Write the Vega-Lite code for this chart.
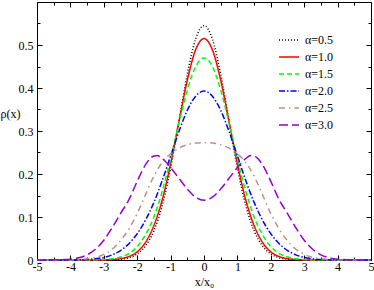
{
"$schema": "https://vega.github.io/schema/vega-lite/v6.json",
"width": 334, "height": 258,
"autosize": {"type": "none"},
"padding": {"left": 37, "top": 2, "right": 3, "bottom": 30},
"config": {
  "view": {"stroke": "black", "strokeWidth": 1},
  "font": "Liberation Serif",
  "axis": {"domain": false, "grid": false, "tickColor": "black", "tickWidth": 1, "labelColor": "black", "labelFont": "Liberation Serif", "labelFontSize": 12, "titleFont": "Liberation Serif", "titleFontSize": 12, "titleFontWeight": "normal", "titleColor": "black", "labelFlush": false}
},
"data": {"values": [
{"s":"α=0.5","x":-5,"y":0},{"s":"α=0.5","x":-4.5,"y":0},{"s":"α=0.5","x":-4,"y":0},{"s":"α=0.5","x":-3.75,"y":0},{"s":"α=0.5","x":-3.5,"y":0},{"s":"α=0.5","x":-3.25,"y":0},{"s":"α=0.5","x":-3,"y":0.0002},{"s":"α=0.5","x":-2.75,"y":0.0006},{"s":"α=0.5","x":-2.5,"y":0.002},{"s":"α=0.5","x":-2.25,"y":0.0055},{"s":"α=0.5","x":-2,"y":0.014},{"s":"α=0.5","x":-1.75,"y":0.033},{"s":"α=0.5","x":-1.5,"y":0.068},{"s":"α=0.5","x":-1.25,"y":0.127},{"s":"α=0.5","x":-1,"y":0.214},{"s":"α=0.5","x":-0.75,"y":0.322},{"s":"α=0.5","x":-0.5,"y":0.432},{"s":"α=0.5","x":-0.25,"y":0.514},{"s":"α=0.5","x":0,"y":0.545},{"s":"α=0.5","x":0.25,"y":0.514},{"s":"α=0.5","x":0.5,"y":0.432},{"s":"α=0.5","x":0.75,"y":0.322},{"s":"α=0.5","x":1,"y":0.214},{"s":"α=0.5","x":1.25,"y":0.127},{"s":"α=0.5","x":1.5,"y":0.068},{"s":"α=0.5","x":1.75,"y":0.033},{"s":"α=0.5","x":2,"y":0.014},{"s":"α=0.5","x":2.25,"y":0.0055},{"s":"α=0.5","x":2.5,"y":0.002},{"s":"α=0.5","x":2.75,"y":0.0006},{"s":"α=0.5","x":3,"y":0.0002},{"s":"α=0.5","x":3.25,"y":0},{"s":"α=0.5","x":3.5,"y":0},{"s":"α=0.5","x":3.75,"y":0},{"s":"α=0.5","x":4,"y":0},{"s":"α=0.5","x":4.5,"y":0},{"s":"α=0.5","x":5,"y":0},
{"s":"α=1.0","x":-5,"y":0},{"s":"α=1.0","x":-4.5,"y":0},{"s":"α=1.0","x":-4,"y":0},{"s":"α=1.0","x":-3.75,"y":0},{"s":"α=1.0","x":-3.5,"y":0},{"s":"α=1.0","x":-3.25,"y":0},{"s":"α=1.0","x":-3,"y":0.0003},{"s":"α=1.0","x":-2.75,"y":0.001},{"s":"α=1.0","x":-2.5,"y":0.003},{"s":"α=1.0","x":-2.25,"y":0.008},{"s":"α=1.0","x":-2,"y":0.019},{"s":"α=1.0","x":-1.75,"y":0.041},{"s":"α=1.0","x":-1.5,"y":0.08},{"s":"α=1.0","x":-1.25,"y":0.14},{"s":"α=1.0","x":-1,"y":0.224},{"s":"α=1.0","x":-0.75,"y":0.322},{"s":"α=1.0","x":-0.5,"y":0.418},{"s":"α=1.0","x":-0.25,"y":0.489},{"s":"α=1.0","x":0,"y":0.515},{"s":"α=1.0","x":0.25,"y":0.489},{"s":"α=1.0","x":0.5,"y":0.418},{"s":"α=1.0","x":0.75,"y":0.322},{"s":"α=1.0","x":1,"y":0.224},{"s":"α=1.0","x":1.25,"y":0.14},{"s":"α=1.0","x":1.5,"y":0.08},{"s":"α=1.0","x":1.75,"y":0.041},{"s":"α=1.0","x":2,"y":0.019},{"s":"α=1.0","x":2.25,"y":0.008},{"s":"α=1.0","x":2.5,"y":0.003},{"s":"α=1.0","x":2.75,"y":0.001},{"s":"α=1.0","x":3,"y":0.0003},{"s":"α=1.0","x":3.25,"y":0},{"s":"α=1.0","x":3.5,"y":0},{"s":"α=1.0","x":3.75,"y":0},{"s":"α=1.0","x":4,"y":0},{"s":"α=1.0","x":4.5,"y":0},{"s":"α=1.0","x":5,"y":0},
{"s":"α=1.5","x":-5,"y":0},{"s":"α=1.5","x":-4.5,"y":0},{"s":"α=1.5","x":-4,"y":0},{"s":"α=1.5","x":-3.75,"y":0},{"s":"α=1.5","x":-3.5,"y":0},{"s":"α=1.5","x":-3.25,"y":0.0003},{"s":"α=1.5","x":-3,"y":0.001},{"s":"α=1.5","x":-2.75,"y":0.003},{"s":"α=1.5","x":-2.5,"y":0.007},{"s":"α=1.5","x":-2.25,"y":0.015},{"s":"α=1.5","x":-2,"y":0.031},{"s":"α=1.5","x":-1.75,"y":0.059},{"s":"α=1.5","x":-1.5,"y":0.1},{"s":"α=1.5","x":-1.25,"y":0.16},{"s":"α=1.5","x":-1,"y":0.235},{"s":"α=1.5","x":-0.75,"y":0.318},{"s":"α=1.5","x":-0.5,"y":0.395},{"s":"α=1.5","x":-0.25,"y":0.45},{"s":"α=1.5","x":0,"y":0.47},{"s":"α=1.5","x":0.25,"y":0.45},{"s":"α=1.5","x":0.5,"y":0.395},{"s":"α=1.5","x":0.75,"y":0.318},{"s":"α=1.5","x":1,"y":0.235},{"s":"α=1.5","x":1.25,"y":0.16},{"s":"α=1.5","x":1.5,"y":0.1},{"s":"α=1.5","x":1.75,"y":0.059},{"s":"α=1.5","x":2,"y":0.031},{"s":"α=1.5","x":2.25,"y":0.015},{"s":"α=1.5","x":2.5,"y":0.007},{"s":"α=1.5","x":2.75,"y":0.003},{"s":"α=1.5","x":3,"y":0.001},{"s":"α=1.5","x":3.25,"y":0.0003},{"s":"α=1.5","x":3.5,"y":0},{"s":"α=1.5","x":3.75,"y":0},{"s":"α=1.5","x":4,"y":0},{"s":"α=1.5","x":4.5,"y":0},{"s":"α=1.5","x":5,"y":0},
{"s":"α=2.0","x":-5,"y":0},{"s":"α=2.0","x":-4.5,"y":0},{"s":"α=2.0","x":-4,"y":0},{"s":"α=2.0","x":-3.75,"y":0.0003},{"s":"α=2.0","x":-3.5,"y":0.001},{"s":"α=2.0","x":-3.25,"y":0.003},{"s":"α=2.0","x":-3,"y":0.006},{"s":"α=2.0","x":-2.75,"y":0.012},{"s":"α=2.0","x":-2.5,"y":0.022},{"s":"α=2.0","x":-2.25,"y":0.038},{"s":"α=2.0","x":-2,"y":0.061},{"s":"α=2.0","x":-1.75,"y":0.093},{"s":"α=2.0","x":-1.5,"y":0.134},{"s":"α=2.0","x":-1.25,"y":0.185},{"s":"α=2.0","x":-1,"y":0.242},{"s":"α=2.0","x":-0.75,"y":0.299},{"s":"α=2.0","x":-0.5,"y":0.348},{"s":"α=2.0","x":-0.25,"y":0.381},{"s":"α=2.0","x":0,"y":0.393},{"s":"α=2.0","x":0.25,"y":0.381},{"s":"α=2.0","x":0.5,"y":0.348},{"s":"α=2.0","x":0.75,"y":0.299},{"s":"α=2.0","x":1,"y":0.242},{"s":"α=2.0","x":1.25,"y":0.185},{"s":"α=2.0","x":1.5,"y":0.134},{"s":"α=2.0","x":1.75,"y":0.093},{"s":"α=2.0","x":2,"y":0.061},{"s":"α=2.0","x":2.25,"y":0.038},{"s":"α=2.0","x":2.5,"y":0.022},{"s":"α=2.0","x":2.75,"y":0.012},{"s":"α=2.0","x":3,"y":0.006},{"s":"α=2.0","x":3.25,"y":0.003},{"s":"α=2.0","x":3.5,"y":0.001},{"s":"α=2.0","x":3.75,"y":0.0003},{"s":"α=2.0","x":4,"y":0},{"s":"α=2.0","x":4.5,"y":0},{"s":"α=2.0","x":5,"y":0},
{"s":"α=2.5","x":-5,"y":0},{"s":"α=2.5","x":-4.5,"y":0},{"s":"α=2.5","x":-4,"y":0.0003},{"s":"α=2.5","x":-3.75,"y":0.001},{"s":"α=2.5","x":-3.5,"y":0.003},{"s":"α=2.5","x":-3.25,"y":0.006},{"s":"α=2.5","x":-3,"y":0.013},{"s":"α=2.5","x":-2.75,"y":0.025},{"s":"α=2.5","x":-2.5,"y":0.045},{"s":"α=2.5","x":-2.25,"y":0.072},{"s":"α=2.5","x":-2,"y":0.108},{"s":"α=2.5","x":-1.75,"y":0.152},{"s":"α=2.5","x":-1.5,"y":0.195},{"s":"α=2.5","x":-1.25,"y":0.227},{"s":"α=2.5","x":-1,"y":0.247},{"s":"α=2.5","x":-0.75,"y":0.26},{"s":"α=2.5","x":-0.5,"y":0.268},{"s":"α=2.5","x":-0.25,"y":0.272},{"s":"α=2.5","x":0,"y":0.273},{"s":"α=2.5","x":0.25,"y":0.272},{"s":"α=2.5","x":0.5,"y":0.268},{"s":"α=2.5","x":0.75,"y":0.26},{"s":"α=2.5","x":1,"y":0.247},{"s":"α=2.5","x":1.25,"y":0.227},{"s":"α=2.5","x":1.5,"y":0.195},{"s":"α=2.5","x":1.75,"y":0.152},{"s":"α=2.5","x":2,"y":0.108},{"s":"α=2.5","x":2.25,"y":0.072},{"s":"α=2.5","x":2.5,"y":0.045},{"s":"α=2.5","x":2.75,"y":0.025},{"s":"α=2.5","x":3,"y":0.013},{"s":"α=2.5","x":3.25,"y":0.006},{"s":"α=2.5","x":3.5,"y":0.003},{"s":"α=2.5","x":3.75,"y":0.001},{"s":"α=2.5","x":4,"y":0.0003},{"s":"α=2.5","x":4.5,"y":0},{"s":"α=2.5","x":5,"y":0},
{"s":"α=3.0","x":-5,"y":0},{"s":"α=3.0","x":-4.5,"y":0.0003},{"s":"α=3.0","x":-4,"y":0.002},{"s":"α=3.0","x":-3.75,"y":0.005},{"s":"α=3.0","x":-3.5,"y":0.012},{"s":"α=3.0","x":-3.25,"y":0.025},{"s":"α=3.0","x":-3,"y":0.046},{"s":"α=3.0","x":-2.75,"y":0.075},{"s":"α=3.0","x":-2.5,"y":0.108},{"s":"α=3.0","x":-2.25,"y":0.14},{"s":"α=3.0","x":-2,"y":0.183},{"s":"α=3.0","x":-1.75,"y":0.222},{"s":"α=3.0","x":-1.5,"y":0.242},{"s":"α=3.0","x":-1.4,"y":0.243},{"s":"α=3.0","x":-1.25,"y":0.236},{"s":"α=3.0","x":-1,"y":0.215},{"s":"α=3.0","x":-0.75,"y":0.19},{"s":"α=3.0","x":-0.5,"y":0.165},{"s":"α=3.0","x":-0.25,"y":0.146},{"s":"α=3.0","x":0,"y":0.139},{"s":"α=3.0","x":0.25,"y":0.146},{"s":"α=3.0","x":0.5,"y":0.165},{"s":"α=3.0","x":0.75,"y":0.19},{"s":"α=3.0","x":1,"y":0.215},{"s":"α=3.0","x":1.25,"y":0.236},{"s":"α=3.0","x":1.4,"y":0.243},{"s":"α=3.0","x":1.5,"y":0.242},{"s":"α=3.0","x":1.75,"y":0.222},{"s":"α=3.0","x":2,"y":0.183},{"s":"α=3.0","x":2.25,"y":0.14},{"s":"α=3.0","x":2.5,"y":0.108},{"s":"α=3.0","x":2.75,"y":0.075},{"s":"α=3.0","x":3,"y":0.046},{"s":"α=3.0","x":3.25,"y":0.025},{"s":"α=3.0","x":3.5,"y":0.012},{"s":"α=3.0","x":3.75,"y":0.005},{"s":"α=3.0","x":4,"y":0.002},{"s":"α=3.0","x":4.5,"y":0.0003},{"s":"α=3.0","x":5,"y":0}
]},
"layer": [
  {
    "mark": {"type": "line", "strokeWidth": 1.5, "interpolate": "monotone"},
    "encoding": {
      "x": {"field": "x", "type": "quantitative", "scale": {"domain": [-5, 5], "nice": false},
            "axis": {"orient": "bottom", "values": [-5,-4,-3,-2,-1,0,1,2,3,4,5], "labelExpr": "(datum.value < 0 ? '-' : '') + abs(datum.value)", "tickSize": -5, "labelPadding": 6, "title": "x/x₀", "titleY": 25, "titleBaseline": "alphabetic"}},
      "y": {"field": "y", "type": "quantitative", "scale": {"domain": [0, 0.6], "nice": false},
            "axis": {"orient": "left", "values": [0,0.1,0.2,0.3,0.4,0.5], "labelExpr": "datum.value == 0 ? '0' : format(datum.value, '.1f')", "tickSize": -5, "labelPadding": 9, "title": "ρ(x)", "titleAngle": 0, "titleX": -37, "titleY": 111, "titleAlign": "left", "titleBaseline": "middle"}},
      "color": {"field": "s", "type": "nominal",
                "scale": {"domain": ["α=0.5","α=1.0","α=1.5","α=2.0","α=2.5","α=3.0"], "range": ["#000000","#ff0000","#00ff00","#0000ff","#bc8f8f","#9400d3"]},
                "legend": {"orient": "none", "legendX": 241, "legendY": 27, "title": null, "symbolType": "stroke", "symbolSize": 400, "symbolStrokeWidth": 1.5, "labelFont": "Liberation Serif", "labelFontSize": 12, "labelColor": "black", "labelOffset": 5, "rowPadding": -8.5, "padding": 0}},
      "strokeDash": {"field": "s", "type": "nominal",
                "scale": {"domain": ["α=0.5","α=1.0","α=1.5","α=2.0","α=2.5","α=3.0"], "range": [[1,2],[1,0],[5,3],[6,2,1.5,2],[6,4,1.5,4],[9,4]]}}
    }
  },
  {
    "mark": {"type": "line", "opacity": 0, "strokeWidth": 0},
    "encoding": {
      "x": {"field": "x", "type": "quantitative", "scale": {"domain": [-5, 5], "nice": false},
            "axis": {"orient": "bottom", "values": [-4.5,-3.5,-2.5,-1.5,-0.5,0.5,1.5,2.5,3.5,4.5], "tickSize": -3, "labels": false, "title": null}},
      "y": {"field": "y", "type": "quantitative", "scale": {"domain": [0, 0.6], "nice": false},
            "axis": {"orient": "left", "values": [0.05,0.15,0.25,0.35,0.45,0.55], "tickSize": -3, "labels": false, "title": null}}
    }
  },
  {
    "mark": {"type": "line", "opacity": 0, "strokeWidth": 0},
    "encoding": {
      "x": {"field": "x", "type": "quantitative", "scale": {"domain": [-5, 5], "nice": false},
            "axis": {"orient": "top", "values": [-5,-4,-3,-2,-1,0,1,2,3,4,5], "tickSize": -5, "labels": false, "title": null}},
      "y": {"field": "y", "type": "quantitative", "scale": {"domain": [0, 0.6], "nice": false},
            "axis": {"orient": "right", "values": [0,0.1,0.2,0.3,0.4,0.5], "tickSize": -5, "labels": false, "title": null}}
    }
  },
  {
    "mark": {"type": "line", "opacity": 0, "strokeWidth": 0},
    "encoding": {
      "x": {"field": "x", "type": "quantitative", "scale": {"domain": [-5, 5], "nice": false},
            "axis": {"orient": "top", "values": [-4.5,-3.5,-2.5,-1.5,-0.5,0.5,1.5,2.5,3.5,4.5], "tickSize": -3, "labels": false, "title": null}},
      "y": {"field": "y", "type": "quantitative", "scale": {"domain": [0, 0.6], "nice": false},
            "axis": {"orient": "right", "values": [0.05,0.15,0.25,0.35,0.45,0.55], "tickSize": -3, "labels": false, "title": null}}
    }
  }
],
"resolve": {"axis": {"x": "independent", "y": "independent"}}
}
